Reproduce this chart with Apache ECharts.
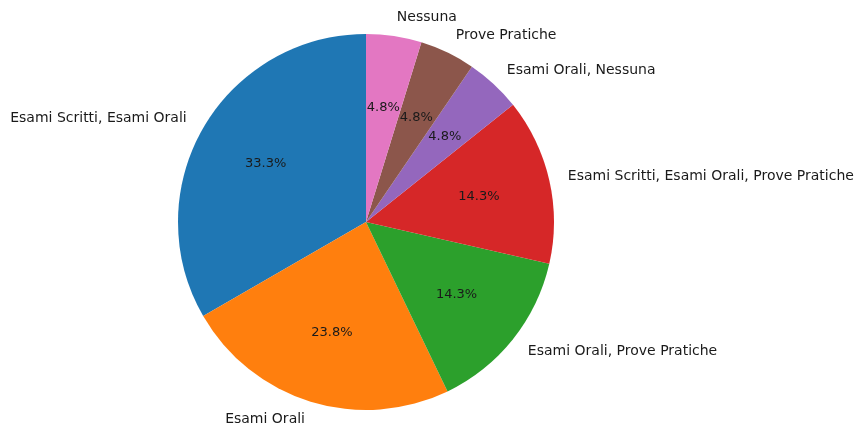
<!DOCTYPE html>
<html>
<head>
<meta charset="utf-8">
<script src="https://cdn.jsdelivr.net/npm/echarts@6/dist/echarts.min.js"></script>
<style>
  html, body { margin: 0; padding: 0; background: #fff; }
  #chart { width: 855px; height: 425px; }
</style>
</head>
<body>
<div id="chart"></div>
<script>
const categories = [
  "Esami Scritti, Esami Orali",
  "Esami Orali",
  "Esami Orali, Prove Pratiche",
  "Esami Scritti, Esami Orali, Prove Pratiche",
  "Esami Orali, Nessuna",
  "Prove Pratiche",
  "Nessuna"
];
const counts = [7, 5, 3, 3, 1, 1, 1];
const colors = ["#1f77b4", "#ff7f0e", "#2ca02c", "#d62728", "#9467bd", "#8c564b", "#e377c2"];

const total = counts.reduce((a, b) => a + b, 0);
const pieData = categories.map((name, i) => ({
  name,
  value: counts[i],
  itemStyle: { color: colors[i] }
}));

const cx = 366, cy = 222, r = 188;

const chart = echarts.init(document.getElementById("chart"));
chart.setOption({
  animation: false,
  series: [
    {
      type: "pie",
      center: [cx, cy],
      radius: [0, r],
      startAngle: 90,
      clockwise: false,
      avoidLabelOverlap: false,
      silent: true,
      itemStyle: { borderWidth: 0 },
      label: {
        position: "outside",
        formatter: "{b}",
        fontFamily: "DejaVu Sans",
        fontSize: 14,
        color: "#1a1a1a"
      },
      labelLine: { show: false, length: 19, length2: -5 },
      data: pieData
    },
    {
      // transparent copy, only used to put the percentages at 0.6 r
      type: "pie",
      center: [cx, cy],
      radius: [0, r * 1.2],
      startAngle: 90,
      clockwise: false,
      avoidLabelOverlap: false,
      silent: true,
      itemStyle: { color: "transparent", borderWidth: 0 },
      label: {
        position: "inside",
        formatter: (p) => ((p.value / total) * 100).toFixed(1) + "%",
        fontFamily: "DejaVu Sans",
        fontSize: 13,
        color: "#1a1a1a"
      },
      labelLine: { show: false },
      data: counts.map((v, i) => ({ name: categories[i], value: v }))
    }
  ]
});
</script>
</body>
</html>
